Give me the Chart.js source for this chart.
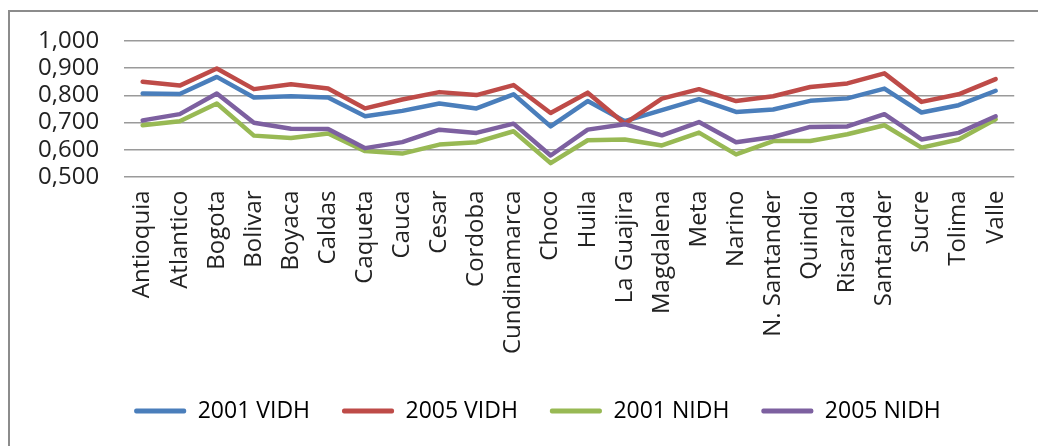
<!DOCTYPE html>
<html>
<head>
<meta charset="utf-8">
<script src="https://cdn.jsdelivr.net/npm/chart.js@4/dist/chart.umd.min.js"></script>
<style>
  html, body { margin: 0; padding: 0; background: #fff; overflow: hidden; }
  #frame { position: absolute; left: 8px; top: 10px; width: 1100px; height: 500px;
           border-left: 2px solid #8c8c8c; border-top: 2px solid #8c8c8c; }
  #wrap { position: absolute; left: 0; top: 0; width: 1038px; height: 446px; }
</style>
</head>
<body>
<div id="frame"></div>
<div id="wrap"><canvas id="c"></canvas></div>
<script>
const categories = ['Antioquia','Atlantico','Bogota','Bolivar','Boyaca','Caldas','Caqueta','Cauca','Cesar','Cordoba','Cundinamarca','Choco','Huila','La Guajira','Magdalena','Meta','Narino','N. Santander','Quindio','Risaralda','Santander','Sucre','Tolima','Valle'];
const seriesNames = ['2001 VIDH','2005 VIDH','2001 NIDH','2005 NIDH'];
const vidh2001 = [0.807,0.805,0.868,0.792,0.797,0.792,0.723,0.743,0.770,0.752,0.804,0.686,0.779,0.705,0.746,0.786,0.739,0.748,0.780,0.789,0.825,0.737,0.764,0.817];
const vidh2005 = [0.850,0.836,0.899,0.823,0.841,0.825,0.752,0.785,0.812,0.801,0.838,0.735,0.810,0.696,0.788,0.823,0.779,0.797,0.831,0.844,0.881,0.776,0.804,0.860];
const nidh2001 = [0.690,0.705,0.770,0.652,0.643,0.660,0.595,0.586,0.619,0.628,0.668,0.551,0.635,0.638,0.616,0.663,0.583,0.632,0.632,0.657,0.690,0.608,0.638,0.712];
const nidh2005 = [0.708,0.731,0.807,0.699,0.677,0.676,0.606,0.628,0.674,0.662,0.696,0.579,0.674,0.694,0.653,0.702,0.628,0.647,0.684,0.686,0.731,0.638,0.662,0.723];
const yTicks = [0.5,0.6,0.7,0.8,0.9,1.0];
const colors = ['#4A7EBB','#BE4B48','#98B954','#7D60A0'];
const allSeries = [vidh2001, vidh2005, nidh2001, nidh2005];

const FONT = "'Open Sans', 'DejaVu Sans', sans-serif";

new Chart(document.getElementById('c'), {
  type: 'line',
  data: {
    labels: categories,
    datasets: allSeries.map((d, i) => ({
      label: seriesNames[i],
      data: d,
      borderColor: colors[i],
      backgroundColor: colors[i],
      borderWidth: 4.5,
      pointRadius: 0,
      pointHoverRadius: 0,
      tension: 0,
      borderJoinStyle: 'round',
      borderCapStyle: 'round',
      order: 3 - i
    }))
  },
  options: {
    responsive: true,
    maintainAspectRatio: false,
    animation: false,
    layout: { padding: { left: 38, right: 1, top: 41, bottom: 13.5 } },
    plugins: {
      tooltip: { enabled: false },
      legend: {
        position: 'bottom',
        labels: {
          font: { family: FONT, size: 23 },
          color: '#222',
          boxWidth: 52,
          boxHeight: 5,
          padding: 32,
          sort: (a, b) => a.datasetIndex - b.datasetIndex,
          generateLabels: (chart) => chart.data.datasets.map((ds, i) => ({
            text: ds.label,
            fillStyle: ds.borderColor,
            strokeStyle: ds.borderColor,
            lineWidth: 0,
            hidden: false,
            datasetIndex: i,
            borderRadius: 2
          }))
        }
      }
    },
    scales: {
      x: {
        offset: true,
        grid: { display: false, drawTicks: false },
        border: { display: false },
        ticks: {
          autoSkip: false,
          maxRotation: 90,
          minRotation: 90,
          padding: 13.5,
          color: '#222',
          font: { family: FONT, size: 24 }
        }
      },
      y: {
        min: 0.5,
        max: 1.0,
        afterBuildTicks: (axis) => { axis.ticks = yTicks.map(v => ({ value: v })); },
        grid: { color: '#9a9a9a', lineWidth: 1.6, drawTicks: true, tickLength: 25, tickColor: 'rgba(0,0,0,0)' },
        border: { display: false },
        ticks: {
          autoSkip: false,
          padding: 0,
          color: '#222',
          font: { family: FONT, size: 24 },
          callback: (v) => Number(v).toFixed(3).replace('.', ',')
        }
      }
    }
  }
});
</script>
</body>
</html>
